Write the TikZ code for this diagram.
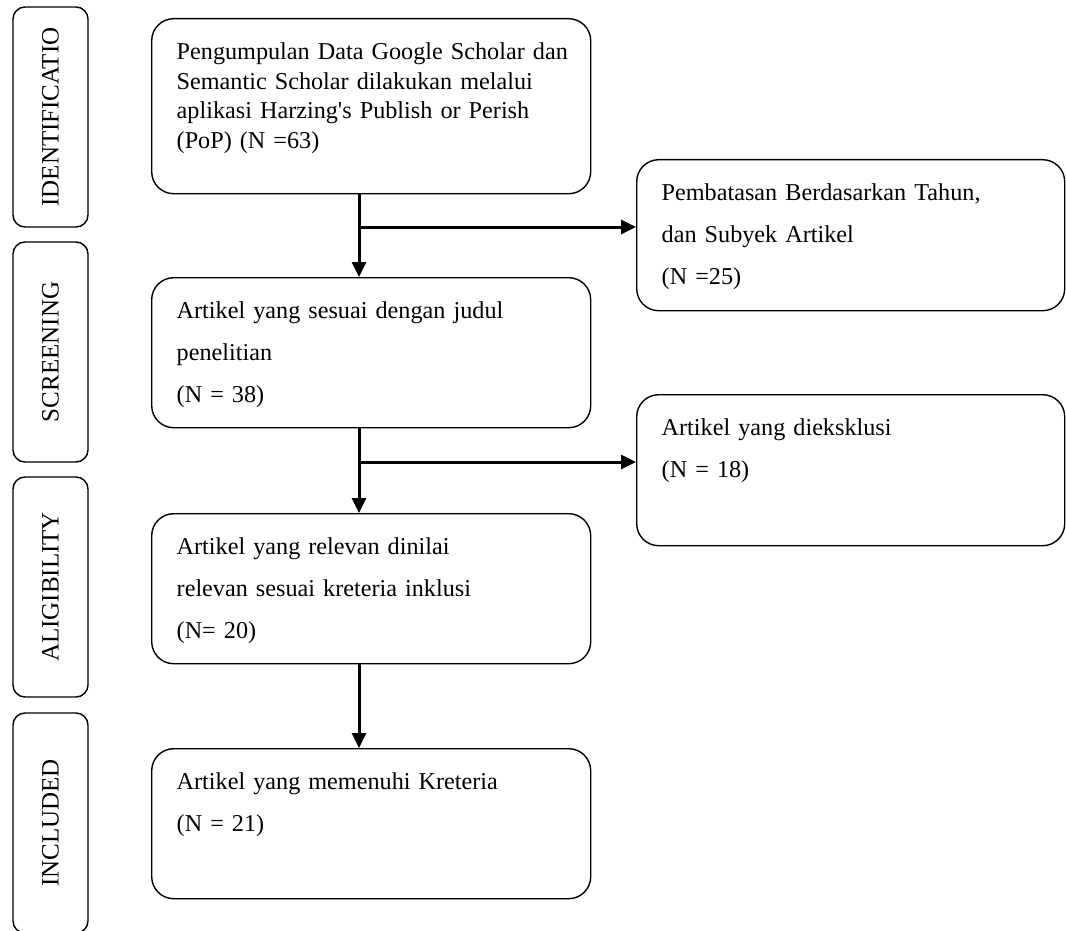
\documentclass[tikz,border=0pt]{standalone}
\usepackage{fontspec}
\setmainfont{Liberation Serif}
\usetikzlibrary{arrows.meta}

\begin{document}
\begin{tikzpicture}[x=1pt, y=-1pt,
    sidebox/.style={draw, line width=1.4pt, rounded corners=12pt, rotate=90,
        minimum width=220pt, minimum height=75pt, inner sep=0pt,
        font=\fontsize{25}{29}\selectfont},
    stagebox/.style={draw, line width=1.4pt, rounded corners=22pt, anchor=north west,
        text width=#1, inner xsep=13pt, inner ysep=24pt, align=left,
        execute at begin node={\leftskip=12pt}, text height=17pt, text depth=85pt,
        font=\fontsize{24.2}{42}\selectfont},
    flow/.style={line width=3pt, -{Triangle[length=15pt,width=14pt]}}]
    \useasboundingbox (0,0) rectangle (1066,931);

    \draw (50.5,117) node[sidebox] (ident)  {IDENTIFICATIO};
    \draw (50.5,352) node[sidebox] (screen) {SCREENING};
    \draw (50.5,587) node[sidebox] (elig)   {ALIGIBILITY};
    \draw (50.5,823) node[sidebox] (incl)   {INCLUDED};

    \draw (151,18) node[stagebox=413pt, text depth=110pt, font=\fontsize{24.2}{29.5}\selectfont] (collect)
        {Pengumpulan Data Google Scholar dan\\ Semantic Scholar dilakukan melalui\\
         aplikasi Harzing\textquotesingle s Publish or Perish\\ (PoP) (N =63)};
    \draw (151,277) node[stagebox=413pt] (screened)
        {Artikel yang sesuai dengan judul\\ penelitian\\ (N = 38)};
    \draw (151,513) node[stagebox=413pt] (relevant)
        {Artikel yang relevan dinilai\\ relevan sesuai kreteria inklusi\\ (N= 20)};
    \draw (151,748) node[stagebox=413pt] (included)
        {Artikel yang memenuhi Kreteria\\ (N = 21)};
    \draw (636,159) node[stagebox=402pt, text depth=86pt] (limit)
        {Pembatasan Berdasarkan Tahun,\\ dan Subyek Artikel\\ (N =25)};
    \draw (636,394) node[stagebox=402pt, text depth=86pt] (excluded)
        {Artikel yang dieksklusi\\ (N = 18)};

    \coordinate (split1) at (359,227);
    \coordinate (split2) at (359,462);
    \draw[flow] (collect.south -| split1) -- (screened.north -| split1);
    \draw[flow] (split1) -- (limit.west |- split1);
    \draw[flow] (screened.south -| split2) -- (relevant.north -| split2);
    \draw[flow] (split2) -- (excluded.west |- split2);
    \draw[flow] (relevant.south -| split2) -- (included.north -| split2);
\end{tikzpicture}
\end{document}
